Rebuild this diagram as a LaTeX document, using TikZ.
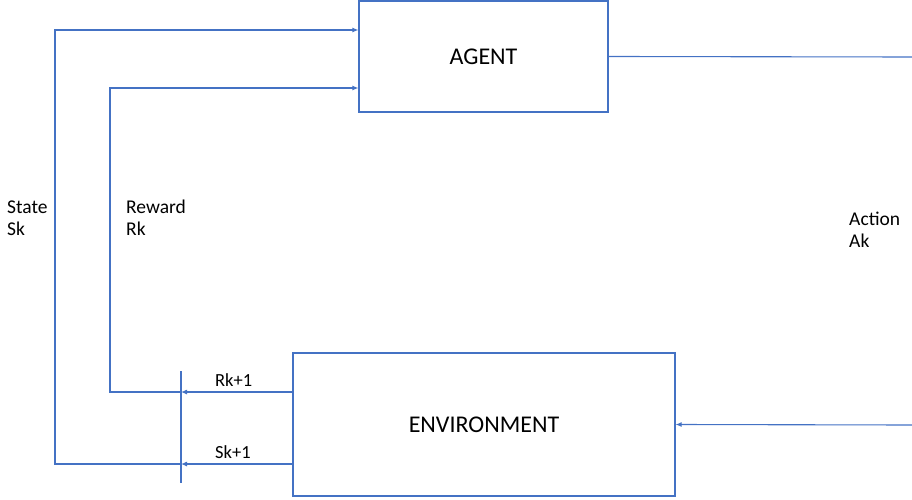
\documentclass[tikz,border=0pt]{standalone}
\usepackage{fontspec}
\setmainfont{Carlito}
\usetikzlibrary{arrows.meta}
\definecolor{lineblue}{HTML}{4472C4}
\begin{document}
\begin{tikzpicture}[x=1pt,y=-1pt,
  conn/.style={draw=lineblue, line width=1.1pt},
  arr/.style={conn,-{Latex[length=6pt,width=5pt]}},
  boxnode/.style={draw=lineblue,line width=1.1pt,rectangle,inner sep=0pt,font=\fontsize{24}{28}\selectfont},
  lbl/.style={inner sep=0pt,anchor=base west,font=\fontsize{19.5}{22}\selectfont},
  smalllbl/.style={inner sep=0pt,anchor=base west,font=\fontsize{18.5}{22}\selectfont}]
\useasboundingbox (0,0) rectangle (912,500);
% boxes
\node[boxnode,minimum width=249pt,minimum height=111pt] (agent) at (483.5,56.5) {AGENT};
\node[boxnode,minimum width=382pt,minimum height=143pt] (env) at (484,424.5) {ENVIRONMENT};
% coordinates
\coordinate (bartop) at (181,371);
\coordinate (barbot) at (181,483);
\coordinate (rjoin) at (181,392);
\coordinate (sjoin) at (181,464);
\coordinate (rcorner1) at (110,392);
\coordinate (rcorner2) at (110,88);
\coordinate (scorner1) at (55,464);
\coordinate (scorner2) at (55,30);
\coordinate (actout) at (912,57);
\coordinate (actin) at (912,425);
% bar
\draw[conn] (bartop) -- (barbot);
% reward path
\draw[arr] ([yshift=32.5pt]env.west) -- (rjoin);
\draw[arr] (rjoin) -- (rcorner1) -- (rcorner2) -- ([yshift=-31.5pt]agent.west);
% state path
\draw[arr] ([yshift=-39.5pt]env.west) -- (sjoin);
\draw[arr] (sjoin) -- (scorner1) -- (scorner2) -- ([yshift=26.5pt]agent.west);
% action path
\draw[conn] (agent.east) -- (actout);
\draw[arr] (actin) -- (env.east);
% labels
\node[lbl] (state1) at (7,213) {State};
\node[lbl] (state2) at (7,235) {Sk};
\node[lbl] (rew1) at (126,213) {Reward};
\node[lbl] (rew2) at (126,235) {Rk};
\node[lbl] (act1) at (849,225) {Action};
\node[lbl] (act2) at (849,247) {Ak};
\node[smalllbl] (rk1) at (215,386) {Rk+1};
\node[smalllbl] (sk1) at (215,458) {Sk+1};
\end{tikzpicture}
\end{document}
